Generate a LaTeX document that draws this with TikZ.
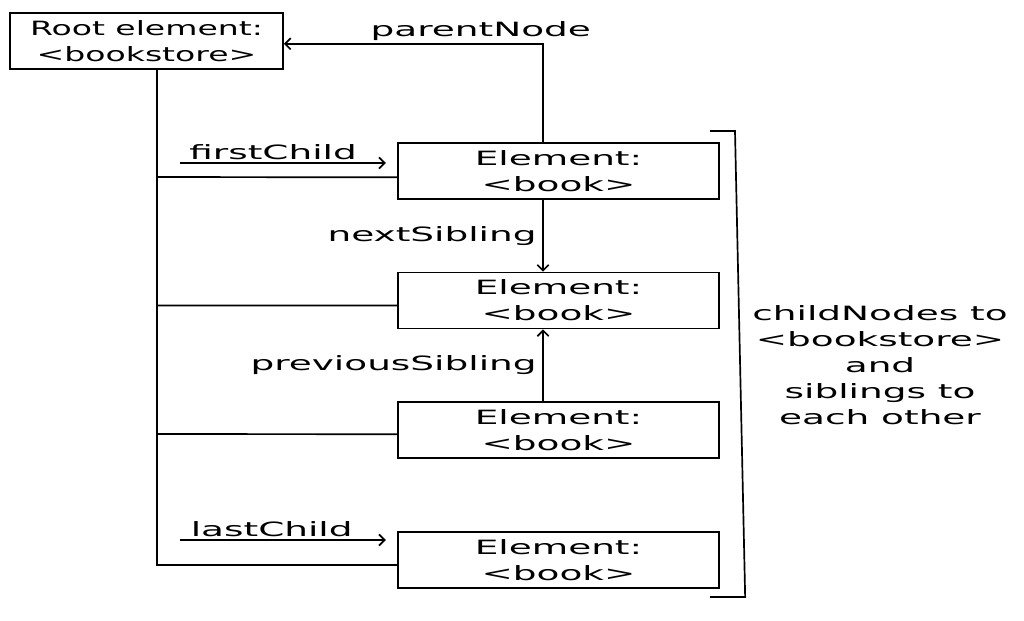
\documentclass[tikz,border=0pt]{standalone}
\usepackage{fontspec}
\setmainfont{DejaVu Sans}
\newfontfamily\wfont[FakeStretch=1.9]{DejaVu Sans}
\newfontfamily\rfont[FakeStretch=1.68]{DejaVu Sans}
\usetikzlibrary{arrows.meta}

\begin{document}
\begin{tikzpicture}[x=0.025cm,y=-0.025cm,line width=1.2pt,
  >={Straight Barb[length=4pt,width=8pt]}]
\tikzstyle{every node}+=[font=\wfont\fontsize{14pt}{18.5pt}\selectfont,align=center]
\tikzstyle{elem}=[draw,inner sep=0pt,minimum width=8.025cm,minimum height=1.4cm]
\tikzstyle{lbl}=[inner sep=2pt]
\useasboundingbox (0,0) rectangle (1024,620);
\node [elem,minimum width=6.825cm,font=\rfont\fontsize{14pt}{18.5pt}\selectfont] (root) at (146.5,41) {Root element:\\<bookstore>};
\node [elem] (b1) at (558.5,171) {Element:\\<book>};
\node [elem] (b2) at (558.5,300.5) {Element:\\<book>};
\node [elem] (b3) at (558.5,430) {Element:\\<book>};
\node [elem] (b4) at (558.5,560) {Element:\\<book>};
\coordinate (trunk) at (157,0);
\coordinate (sib) at (543,0);
\coordinate (fc) at (180,163);
\coordinate (lc) at (180,540);
\coordinate (brtop) at (710,131);
\coordinate (brbot) at (710,597);
% child lines
\draw (root.south -| trunk) |- ([yshift=-3.5pt]b4.west);
\draw (trunk |- b1.west) ++(0,6) -- ([yshift=-4.5pt]b1.west);
\draw (trunk |- b2.west) ++(0,5) -- ([yshift=-3.5pt]b2.west);
\draw (trunk |- b3.west) ++(0,4) -- ([yshift=-3pt]b3.west);
% pointers
\draw [->,shorten >=8pt] (fc) -- (fc -| b1.west) node [lbl,midway,above,xshift=-11pt] {firstChild};
\draw [->,shorten >=8pt] (lc) -- (lc -| b4.west) node [lbl,midway,above,xshift=-12pt] {lastChild};
\draw [->] (sib |- b1.north) |- ([yshift=-2pt]root.east) node [lbl,pos=0.62,above] {parentNode};
\draw [->] (sib |- b1.south) -- (sib |- b2.north) node [lbl,midway,left,inner sep=4pt] {nextSibling};
\draw [->] (sib |- b3.north) -- (sib |- b2.south) node [lbl,midway,left,inner sep=4pt] {previousSibling};
% bracket
\draw (brtop) -- ++(25,0) -- ([xshift=25]brbot) -- (brbot);
\node (note) at (880,365) {childNodes to\\<bookstore>\\and\\siblings to\\each other};
\end{tikzpicture}
\end{document}
